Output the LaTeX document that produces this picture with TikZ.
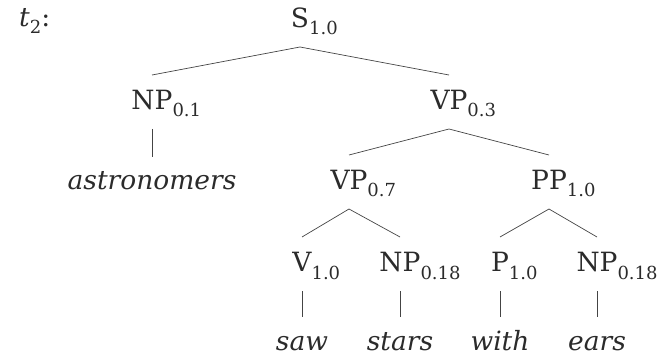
\documentclass[tikz,border=0pt]{standalone}
\usepackage{fontspec}
\setmainfont{DejaVu Serif}
\definecolor{ink}{HTML}{2B2B2B}
\definecolor{edgecol}{HTML}{444444}
\newcommand{\lsub}[1]{\raisebox{-7pt}{\fontsize{18}{20}\selectfont #1}}
\newcommand{\hsub}[1]{\rlap{\lsub{#1}}}
\tikzset{
  lab/.style={anchor=base, inner sep=0pt, text=ink, font=\fontsize{26.5}{30}\selectfont},
  edge/.style={draw=edgecol, line width=0.7pt},
}
\begin{document}
\begin{tikzpicture}[x=1pt,y=1pt]
\useasboundingbox (0,0) rectangle (666,-355);
\node[lab, anchor=base west] (t) at (19,-27) {\textit{t}\lsub{2}:};
\node[lab] (S) at (300,-28) {S\hsub{1.0}};
\node[lab] (NPa) at (152,-110) {NP\hsub{0.1}};
\node[lab] (VPa) at (449,-110) {VP\hsub{0.3}};
\node[lab] (astr) at (152,-190) {\textit{astronomers}};
\node[lab] (VPb) at (349,-190) {VP\hsub{0.7}};
\node[lab] (PP) at (549,-190) {PP\hsub{1.0}};
\node[lab] (V) at (302,-272) {V\hsub{1.0}};
\node[lab] (NPb) at (400,-272) {NP\hsub{0.18}};
\node[lab] (P) at (500,-272) {P\hsub{1.0}};
\node[lab] (NPc) at (597,-272) {NP\hsub{0.18}};
\node[lab] (saw) at (302,-350) {\textit{saw}};
\node[lab] (stars) at (400,-350) {\textit{stars}};
\node[lab] (with) at (500,-350) {\textit{with}};
\node[lab] (ears) at (597,-350) {\textit{ears}};
\foreach \p/\c in {S/NPa, S/VPa, VPa/VPb, VPa/PP, VPb/V, VPb/NPb, PP/P, PP/NPc}
  \draw[edge] ([yshift=-19pt]\p.base) -- ([yshift=35pt]\c.base);
\foreach \p/\c in {NPa/astr, V/saw, NPb/stars, P/with, NPc/ears}
  \draw[edge] ([yshift=-19pt]\p.base) -- ([yshift=33pt]\c.base);
\end{tikzpicture}
\end{document}
